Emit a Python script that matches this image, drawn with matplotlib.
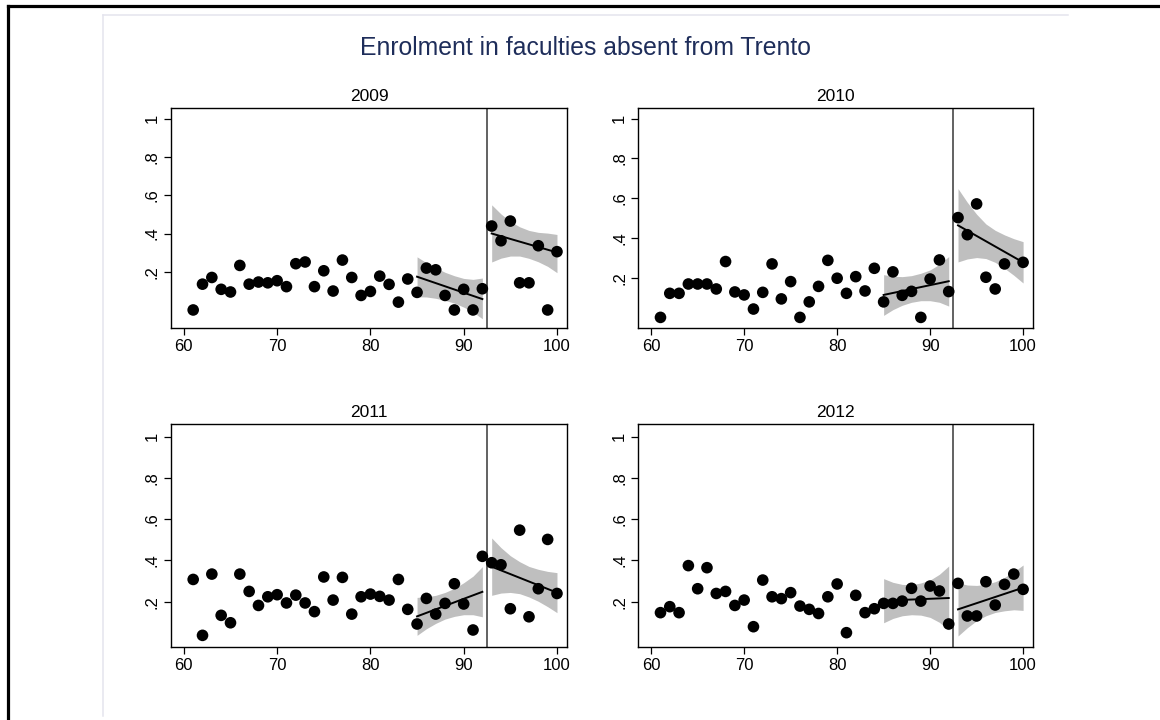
import numpy as np
import matplotlib
matplotlib.use("Agg")
import matplotlib.pyplot as plt
from matplotlib.lines import Line2D

plt.rcParams["font.family"] = ["Liberation Sans", "DejaVu Sans"]

# Running variable (final school grade) and cutoff
score = list(range(61, 101))
cutoff = 92.5
left_x = list(range(85, 93))
right_x = list(range(93, 101))

years = ["2009", "2010", "2011", "2012"]

# Share enrolled in faculties absent from Trento, by grade
share_2009 = [0.000, 0.135, 0.170, 0.108, 0.094, 0.233, 0.135, 0.146, 0.142, 0.153,
              0.122, 0.242, 0.251, 0.122, 0.205, 0.099, 0.261, 0.170, 0.076, 0.097,
              0.177, 0.134, 0.041, 0.162, 0.092, 0.219, 0.210, 0.076, 0.000, 0.108,
              0.000, 0.111, 0.439, 0.362, 0.465, 0.142, 0.142, 0.336, 0.000, 0.305]
share_2010 = [0.000, 0.121, 0.121, 0.168, 0.168, 0.168, 0.143, 0.281, 0.128, 0.113,
              0.042, 0.126, 0.269, 0.093, 0.180, 0.000, 0.078, 0.156, 0.287, 0.197,
              0.121, 0.205, 0.133, 0.247, 0.078, 0.229, 0.111, 0.131, 0.000, 0.193,
              0.289, 0.130, 0.502, 0.416, 0.571, 0.202, 0.143, 0.269, np.nan, 0.277]
share_2011 = [0.308, 0.037, 0.334, 0.134, 0.098, 0.334, 0.250, 0.182, 0.224, 0.234,
              0.194, 0.232, 0.194, 0.152, 0.320, 0.208, 0.318, 0.140, 0.224, 0.237,
              0.226, 0.208, 0.308, 0.163, 0.092, 0.216, 0.140, 0.192, 0.287, 0.189,
              0.063, 0.420, 0.389, 0.379, 0.166, 0.547, 0.127, 0.263, 0.502, 0.240]
share_2012 = [0.147, 0.176, 0.147, 0.375, 0.263, 0.365, 0.240, 0.250, 0.182, 0.208,
              0.079, 0.305, 0.224, 0.215, 0.244, 0.179, 0.163, 0.143, 0.224, 0.286,
              0.050, 0.231, 0.147, 0.166, 0.192, 0.192, 0.203, 0.265, 0.203, 0.276,
              0.252, 0.092, 0.289, 0.131, 0.131, 0.297, 0.184, 0.284, 0.334, 0.260]

# Linear fits on each side of the cutoff: value at first and last grade
fit_left_2009 = [0.174, 0.057]
fit_right_2009 = [0.400, 0.301]
fit_left_2010 = [0.113, 0.182]
fit_right_2010 = [0.463, 0.277]
fit_left_2011 = [0.129, 0.248]
fit_right_2011 = [0.370, 0.244]
fit_left_2012 = [0.205, 0.218]
fit_right_2012 = [0.163, 0.268]

# 95% confidence bands of the fits, upper and lower edge at each grade
ci_left_hi_2009 = [0.278, 0.247, 0.221, 0.197, 0.179, 0.165, 0.160, 0.167]
ci_left_lo_2009 = [0.069, 0.068, 0.061, 0.050, 0.036, 0.015, -0.011, -0.046]
ci_right_hi_2009 = [0.550, 0.502, 0.463, 0.435, 0.416, 0.406, 0.402, 0.395]
ci_right_lo_2009 = [0.251, 0.271, 0.282, 0.282, 0.270, 0.252, 0.228, 0.195]

ci_left_hi_2010 = [0.215, 0.207, 0.205, 0.210, 0.222, 0.239, 0.267, 0.306]
ci_left_lo_2010 = [0.010, 0.039, 0.061, 0.076, 0.084, 0.084, 0.076, 0.057]
ci_right_hi_2010 = [0.648, 0.579, 0.519, 0.470, 0.438, 0.415, 0.396, 0.381]
ci_right_lo_2010 = [0.279, 0.294, 0.301, 0.296, 0.277, 0.247, 0.212, 0.173]

ci_left_hi_2011 = [0.221, 0.224, 0.231, 0.245, 0.265, 0.292, 0.324, 0.370]
ci_left_lo_2011 = [0.037, 0.069, 0.095, 0.116, 0.129, 0.137, 0.137, 0.127]
ci_right_hi_2011 = [0.509, 0.462, 0.423, 0.394, 0.371, 0.357, 0.347, 0.341]
ci_right_lo_2011 = [0.231, 0.242, 0.245, 0.239, 0.223, 0.202, 0.176, 0.147]

ci_left_hi_2012 = [0.312, 0.294, 0.284, 0.282, 0.291, 0.305, 0.333, 0.373]
ci_left_lo_2012 = [0.098, 0.119, 0.132, 0.137, 0.135, 0.124, 0.100, 0.063]
ci_right_hi_2012 = [0.292, 0.281, 0.279, 0.284, 0.297, 0.318, 0.345, 0.378]
ci_right_lo_2012 = [0.034, 0.074, 0.108, 0.132, 0.148, 0.156, 0.161, 0.158]

x_ticks = [60, 70, 80, 90, 100]
y_ticks = [0.2, 0.4, 0.6, 0.8, 1.0]
y_tick_labels = [".2", ".4", ".6", ".8", "1"]

panels = {
    "2009": dict(y=share_2009, fl=fit_left_2009, fr=fit_right_2009,
                 lh=ci_left_hi_2009, ll=ci_left_lo_2009,
                 rh=ci_right_hi_2009, rl=ci_right_lo_2009,
                 rect=[0.1474, 0.5440, 0.3416, 0.3064], ylim=(-0.096, 1.058)),
    "2010": dict(y=share_2010, fl=fit_left_2010, fr=fit_right_2010,
                 lh=ci_left_hi_2010, ll=ci_left_lo_2010,
                 rh=ci_right_hi_2010, rl=ci_right_lo_2010,
                 rect=[0.5503, 0.5440, 0.3405, 0.3064], ylim=(-0.055, 1.055)),
    "2011": dict(y=share_2011, fl=fit_left_2011, fr=fit_right_2011,
                 lh=ci_left_hi_2011, ll=ci_left_lo_2011,
                 rh=ci_right_hi_2011, rl=ci_right_lo_2011,
                 rect=[0.1474, 0.1018, 0.3416, 0.3089], ylim=(-0.018, 1.060)),
    "2012": dict(y=share_2012, fl=fit_left_2012, fr=fit_right_2012,
                 lh=ci_left_hi_2012, ll=ci_left_lo_2012,
                 rh=ci_right_hi_2012, rl=ci_right_lo_2012,
                 rect=[0.5503, 0.1018, 0.3405, 0.3089], ylim=(-0.018, 1.060)),
}

band_color = "#bfbfbf"
title_color = "#1e2d5a"

fig = plt.figure(figsize=(11.6, 7.2), dpi=100)
fig.patch.set_facecolor("white")

# Outer page frame and inner graph-region frame
fig.add_artist(Line2D([0.0065, 0.0065], [-0.01, 0.9910], transform=fig.transFigure,
                      color="black", lw=2.3, solid_capstyle="projecting"))
fig.add_artist(Line2D([0.0065, 1.01], [0.9910, 0.9910], transform=fig.transFigure,
                      color="black", lw=2.3, solid_capstyle="projecting"))
fig.add_artist(Line2D([0.0884, 0.0884], [0.006, 0.9792], transform=fig.transFigure,
                      color="#e4e4ee", lw=1.1))
fig.add_artist(Line2D([0.0884, 0.9207], [0.9792, 0.9792], transform=fig.transFigure,
                      color="#e4e4ee", lw=1.1))

fig.text(0.5050, 0.9330, "Enrolment in faculties absent from Trento",
         ha="center", va="center", fontsize=17.8, color=title_color)

for year in years:
    p = panels[year]
    ax = fig.add_axes(p["rect"])
    ax.fill_between(left_x, p["ll"], p["lh"], color=band_color, lw=0, zorder=1)
    ax.fill_between(right_x, p["rl"], p["rh"], color=band_color, lw=0, zorder=1)
    ax.plot([left_x[0], left_x[-1]], p["fl"], color="black", lw=1.4, zorder=2)
    ax.plot([right_x[0], right_x[-1]], p["fr"], color="black", lw=1.4, zorder=2)
    ax.axvline(cutoff, color="#555555", lw=1.3, zorder=2)
    ax.scatter(score, p["y"], s=70, color="black", edgecolors="none", zorder=3)

    ax.set_xlim(58.62, 101.1)
    ax.set_ylim(*p["ylim"])
    ax.set_xticks(x_ticks)
    ax.set_xticklabels([str(t) for t in x_ticks])
    ax.set_yticks(y_ticks)
    ax.set_yticklabels(y_tick_labels, rotation=90, va="center")
    ax.tick_params(axis="both", direction="out", length=5, width=0.9,
                   labelsize=12, colors="black", pad=3)
    for sp in ax.spines.values():
        sp.set_linewidth(1.0)
        sp.set_color("black")
    ax.set_title(year, fontsize=12.5, pad=5)

fig.savefig("out.png", dpi=100, facecolor="white")
